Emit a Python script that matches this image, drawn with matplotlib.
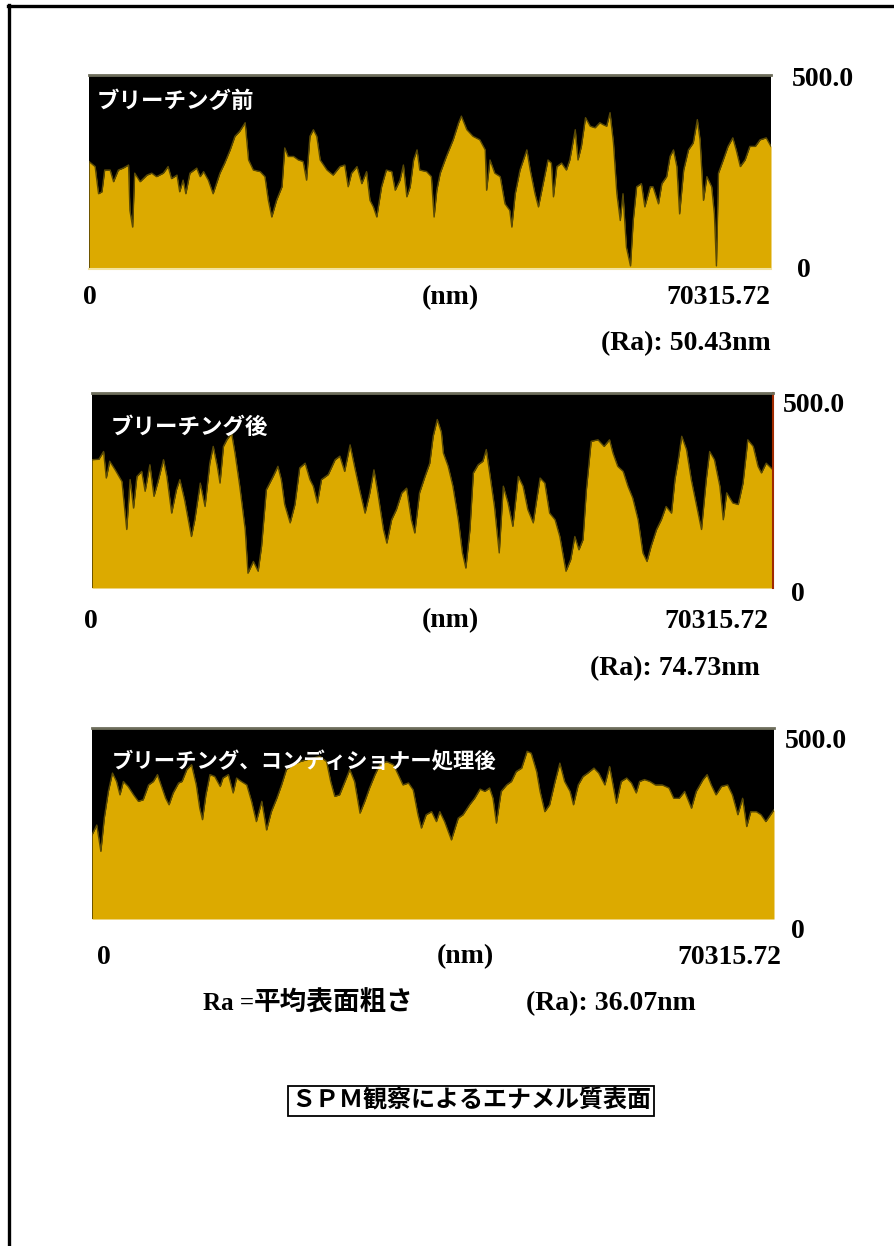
import matplotlib
matplotlib.use('Agg')
import matplotlib.pyplot as plt
from matplotlib.lines import Line2D
import numpy as np

### Data ###
SCAN_LENGTH = 70315.72  # nm
Z_MAX = 500.0

# positions are % of the scan length, heights in nm
pos_before = [0, 0.9, 1.4, 1.9, 2.3, 3.1, 3.6, 4.3, 5.0, 5.8, 6.0, 6.4, 6.7, 7.5, 8.5, 9.2, 9.9,
              10.9, 11.6, 12.1, 12.9, 13.3, 13.8, 14.2, 14.8, 15.8, 16.3, 16.8, 17.5, 18.2, 19.2,
              19.9, 20.7, 21.4, 22.1, 22.9, 23.4, 24.1, 25.1, 25.8, 26.3, 26.8, 27.5, 28.3, 28.7,
              29.2, 30.0, 30.7, 31.4, 31.9, 32.4, 32.9, 33.4, 33.9, 34.9, 35.8, 36.8, 37.5, 38.0,
              38.5, 39.3, 40.0, 40.7, 41.2, 41.7, 42.2, 42.9, 43.6, 44.4, 44.9, 45.6, 46.1, 46.6,
              47.1, 47.6, 48.1, 48.5, 49.5, 50.2, 50.6, 51.0, 51.5, 52.4, 53.4, 54.2, 54.6, 55.4,
              56.3, 57.3, 58.1, 58.3, 58.8, 59.5, 60.3, 61.0, 61.7, 62.0, 62.5, 63.2, 64.2, 64.7,
              65.4, 65.9, 66.6, 67.3, 67.8, 68.1, 68.6, 69.3, 70.0, 70.5, 71.3, 71.7, 72.2, 72.8,
              73.5, 74.2, 74.9, 75.4, 75.9, 76.4, 76.9, 77.4, 77.9, 78.3, 78.8, 79.4, 79.8, 80.3,
              81.0, 81.5, 82.3, 82.7, 83.5, 84.0, 84.7, 85.2, 85.7, 86.2, 86.6, 87.2, 87.9, 88.6,
              89.2, 89.6, 90.1, 90.6, 91.3, 91.7, 92.0, 92.3, 93.0, 93.7, 94.4, 94.9, 95.5, 96.2,
              96.9, 97.7, 98.4, 99.3, 100]
z_before = [277, 264, 194, 199, 255, 255, 225, 255, 260, 268, 151, 108, 247, 225, 242, 247, 238,
            247, 264, 233, 242, 199, 229, 194, 247, 260, 238, 251, 229, 194, 247,
            273, 307, 342, 355, 377, 281, 255, 251, 238, 177, 134, 177, 212, 312,
            290, 290, 281, 277, 229, 342, 359, 342, 281, 255, 242, 264, 268, 212,
            247, 264, 220, 251, 177, 160, 134, 212, 255, 251, 203, 229, 268, 186,
            212, 281, 307, 255, 251, 238, 134, 203, 247, 290, 333, 377, 394, 359,
            342, 333, 307, 203, 281, 247, 238, 168, 151, 108, 194, 255, 307, 255,
            194, 160, 220, 281, 273, 186, 264, 273, 255, 281, 359, 281, 316, 390,
            368, 364, 377, 372, 368, 403, 325, 194, 125, 194, 56, 8, 125, 212,
            220, 160, 212, 212, 168, 220, 238, 290, 307, 264, 142, 255, 307, 325,
            385, 333, 177, 238, 212, 142, 8, 247, 281, 316, 338, 307, 264, 281,
            316, 316, 333, 338, 316]

pos_after = [0, 1.0, 1.7, 2.1, 2.6, 3.4, 4.4, 5.1, 5.6, 6.1, 6.6, 7.3, 7.8, 8.5, 9.1, 9.7, 10.5,
             11.0, 11.7, 12.4, 12.9, 13.6, 14.6, 15.1, 15.9, 16.6, 17.3, 17.8, 18.4, 18.8, 19.3,
             19.8, 20.5, 21.0, 21.7, 22.5, 22.9, 23.7, 24.4, 24.9, 25.6, 26.6, 27.3, 27.8, 28.3,
             29.1, 29.8, 30.5, 31.3, 32.0, 32.5, 33.1, 33.7, 34.7, 35.7, 36.4, 37.1, 37.9, 38.6,
             39.3, 40.1, 40.8, 41.4, 41.9, 42.8, 43.3, 44.0, 44.7, 45.5, 46.2, 46.9, 47.4, 48.1,
             48.9, 49.6, 50.1, 50.7, 51.3, 51.6, 52.3, 53.0, 53.8, 54.4, 54.9, 55.5, 56.0, 56.7,
             57.4, 57.9, 58.4, 59.1, 59.8, 60.4, 61.1, 61.8, 62.6, 63.3, 64.0, 64.8, 65.3, 65.8,
             66.5, 67.2, 68.0, 68.7, 69.6, 70.3, 70.9, 71.5, 72.1, 72.6, 73.3, 74.3, 75.2, 76.0,
             76.5, 77.2, 78.0, 78.7, 79.4, 80.2, 80.9, 81.5, 82.1, 82.9, 83.6, 84.3, 85.1, 85.6,
             86.1, 86.6, 87.3, 88.0, 88.8, 89.5, 90.2, 90.7, 91.4, 92.2, 92.7, 93.2, 94.1, 94.9,
             95.6, 96.3, 97.1, 97.8, 98.3, 99.0, 100]
z_after = [329, 330, 350, 282, 325, 303, 273, 150, 278, 205, 286, 299, 248, 316, 235, 273, 329,
           286, 192, 252, 278, 226, 132, 175, 269, 209, 320, 363, 312, 269, 363,
           380, 397, 346, 261, 150, 38, 68, 43, 107, 252, 286, 312, 278, 214,
           167, 214, 308, 320, 278, 261, 218, 278, 291, 329, 338, 299, 367, 308,
           252, 192, 244, 303, 252, 150, 115, 175, 201, 244, 256, 175, 141, 244,
           286, 320, 389, 432, 400, 346, 312, 261, 175, 90, 51, 150, 295, 316,
           325, 355, 295, 209, 90, 261, 218, 158, 286, 261, 201, 167, 226, 282,
           269, 192, 175, 132, 43, 73, 132, 98, 124, 252, 376, 380, 363, 380,
           346, 312, 299, 261, 231, 175, 90, 68, 107, 150, 175, 209, 192, 278,
           329, 389, 355, 278, 209, 150, 278, 350, 329, 261, 175, 244, 218, 214,
           269, 380, 363, 312, 295, 320, 303]

pos_cond = [0, 0.7, 1.3, 1.8, 2.4, 3.0, 3.6, 4.1, 4.6, 5.3, 6.1, 6.8, 7.5, 8.3, 9.0, 9.6, 10.2,
            10.8, 11.3, 11.9, 12.7, 13.2, 13.9, 14.6, 15.3, 15.8, 16.2, 16.7, 17.3, 18.0, 18.8,
            19.2, 20.0, 20.7, 21.2, 21.9, 22.7, 23.4, 24.1, 24.9, 25.6, 26.3, 27.1, 27.8, 28.5,
            29.5, 30.5, 31.5, 32.4, 33.4, 34.4, 35.0, 35.6, 36.3, 37.1, 37.8, 38.5, 39.3, 40.0,
            40.7, 41.5, 42.2, 43.2, 44.2, 44.9, 45.6, 46.4, 47.1, 47.8, 48.3, 49.0, 49.8, 50.5,
            51.0, 51.7, 52.7, 53.7, 54.4, 55.4, 56.1, 56.9, 57.6, 58.3, 58.8, 59.3, 60.0, 60.8,
            61.5, 62.2, 63.0, 63.8, 64.4, 65.2, 65.7, 66.4, 67.1, 67.9, 68.6, 69.3, 70.1, 70.6,
            71.3, 72.0, 72.7, 73.6, 74.3, 75.2, 75.9, 76.4, 76.9, 77.6, 78.4, 79.1, 79.8, 80.3,
            81.0, 81.8, 82.6, 83.6, 84.6, 85.3, 86.1, 86.9, 87.9, 88.6, 89.6, 90.2, 90.8, 91.5,
            92.3, 93.2, 93.9, 94.7, 95.4, 96.0, 96.6, 97.4, 98.1, 98.8, 100]
z_cond = [220, 246, 177, 264, 334, 382, 360, 325, 360, 347, 325, 308, 312, 351, 360, 378, 347,
          316, 299, 330, 356, 360, 391, 404, 351, 290, 260, 325, 378, 373, 347,
          369, 378, 330, 369, 360, 351, 308, 255, 308, 233, 281, 316, 351, 391,
          404, 412, 417, 421, 426, 412, 360, 321, 325, 360, 391, 360, 277, 308,
          343, 378, 404, 412, 404, 378, 351, 356, 338, 273, 238, 273, 281, 255,
          281, 255, 207, 264, 273, 300, 316, 340, 334, 343, 316, 251, 334, 351,
          360, 386, 395, 439, 434, 386, 334, 281, 299, 360, 408, 360, 334, 299,
          351, 373, 382, 395, 382, 351, 399, 351, 303, 360, 369, 356, 330, 360,
          365, 360, 351, 351, 343, 316, 316, 334, 290, 334, 365, 378, 351, 325,
          347, 351, 325, 273, 316, 242, 281, 281, 273, 255, 286]

titles = ['ブリーチング前', 'ブリーチング後', 'ブリーチング、コンディショナー処理後']
ra_labels = ['(Ra): 50.43nm', '(Ra): 74.73nm', '(Ra): 36.07nm']
profiles = [(pos_before, z_before), (pos_after, z_after), (pos_cond, z_cond)]

W, H = 894, 1246
GOLD = '#dcaa00'
SERIF = 'Liberation Serif'
GOTHIC = 'Noto Sans CJK JP'


def fx(x):
    return x / W


def fy(y):
    return 1 - y / H


fig = plt.figure(figsize=(W / 100, H / 100), dpi=100)
fig.patch.set_facecolor('white')

# outer frame (top and left only)
fig.add_artist(Line2D([fx(8), 1], [fy(6), fy(6)], color='black', lw=2.4))
fig.add_artist(Line2D([fx(9), fx(9)], [fy(5), 0], color='black', lw=2.4))

# panel boxes in pixels: left, top, right, bottom
boxes = [(89, 75, 771, 269), (92, 393, 773, 588), (92, 728, 774, 919)]
title_xy = [(97, 101), (111, 427), (112, 762)]
title_size = [16.2, 16.2, 15.4]

for i, ((left, top, right, bottom), (pos, z)) in enumerate(zip(boxes, profiles)):
    ax = fig.add_axes([fx(left), fy(bottom), (right - left) / W, (bottom - top) / H])
    ax.set_facecolor('black')
    x = np.array(pos) / 100 * SCAN_LENGTH
    ax.fill_between(x, z, 0, color=GOLD, lw=0)
    ax.plot(x, z, color='#5a4a05', lw=1.0)
    ax.set_xlim(0, SCAN_LENGTH)
    ax.set_ylim(0, Z_MAX)
    ax.set_xticks([])
    ax.set_yticks([])
    for s in ax.spines.values():
        s.set_visible(False)
    ax.spines['top'].set_visible(True)
    ax.spines['top'].set_color('#6e6e5c')
    ax.spines['top'].set_linewidth(2)
    if i == 0:
        ax.spines['bottom'].set_visible(True)
        ax.spines['bottom'].set_color('#f3e3a0')
        ax.spines['bottom'].set_linewidth(1.5)
    if i == 1:
        ax.spines['right'].set_visible(True)
        ax.spines['right'].set_color('#a02a00')
        ax.spines['right'].set_linewidth(1.5)
    tx, ty = title_xy[i]
    fig.text(fx(tx), fy(ty), titles[i], color='white', fontsize=title_size[i],
             fontweight='bold', family=GOTHIC, ha='left', va='center')

lab = dict(family=SERIF, fontweight='bold', fontsize=20, color='black', va='center')

# z-range labels
fig.text(fx(792), fy(79), '500.0', ha='left', **lab)
fig.text(fx(797), fy(270), '0', ha='left', **lab)
fig.text(fx(783), fy(406), '500.0', ha='left', **lab)
fig.text(fx(791), fy(595), '0', ha='left', **lab)
fig.text(fx(785), fy(742), '500.0', ha='left', **lab)
fig.text(fx(791), fy(931), '0', ha='left', **lab)

# scan axis labels
for x0, xc, x1, y in [(90, 450, 770, 298), (91, 450, 768, 621), (104, 465, 781, 957)]:
    fig.text(fx(x0), fy(y), '0', ha='center', **lab)
    fig.text(fx(xc), fy(y), '(nm)', ha='center', **lab)
    fig.text(fx(x1), fy(y), f'{SCAN_LENGTH:.2f}', ha='right', **lab)

# roughness values
fig.text(fx(771), fy(344), ra_labels[0], ha='right', **lab)
fig.text(fx(760), fy(669), ra_labels[1], ha='right', **lab)
fig.text(fx(696), fy(1004), ra_labels[2], ha='right', **lab)

fig.text(fx(203), fy(1004), 'Ra =', ha='left', family=SERIF, fontweight='bold',
         fontsize=18, color='black', va='center')
fig.text(fx(254), fy(1003), '平均表面粗さ', ha='left', va='center', family=GOTHIC,
         fontweight='bold', fontsize=19.2, color='black')

# caption box
fig.text(fx(471), fy(1101), 'ＳＰＭ観察によるエナメル質表面', ha='center', va='center',
         family=GOTHIC, fontweight='bold', fontsize=17.3, color='black',
         bbox=dict(boxstyle='square,pad=0.12', facecolor='white', edgecolor='black', lw=1.3))

fig.savefig('out.png', dpi=100, facecolor='white')
